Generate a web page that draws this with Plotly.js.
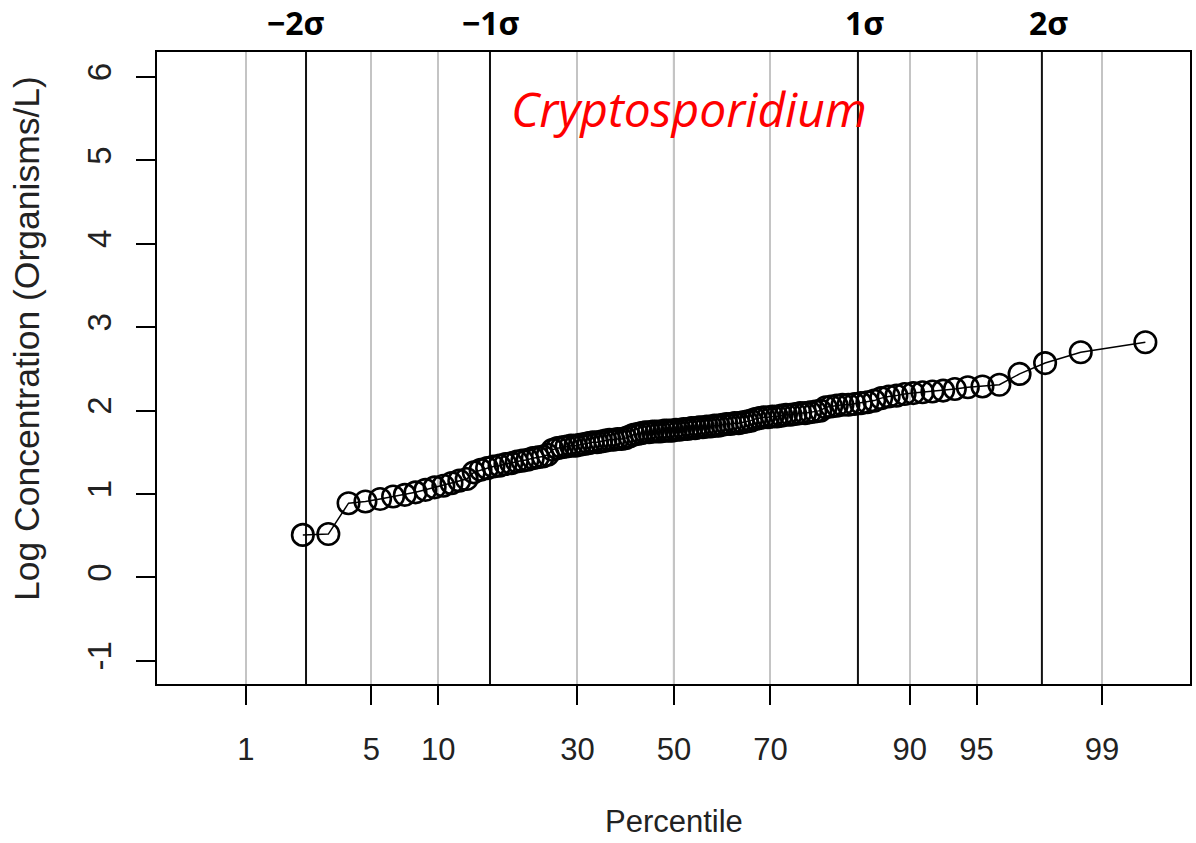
<!DOCTYPE html>
<html>
<head>
<meta charset="utf-8">
<script src="https://cdn.plot.ly/plotly-3.0.1.min.js"></script>
<style>html,body{margin:0;padding:0;background:#fff;}#chart{width:1196px;height:843px;}</style>
</head>
<body>
<div id="chart"></div>
<script>
// ---- data ----
const percentileTicks = [1, 5, 10, 30, 50, 70, 90, 95, 99];
const percentileLabels = ['1', '5', '10', '30', '50', '70', '90', '95', '99'];
const yTicks = [-1, 0, 1, 2, 3, 4, 5, 6];
const yTickLabels = ['-1', '0', '1', '2', '3', '4', '5', '6'];
const sigmaLevels = [-2, -1, 1, 2];
const sigmaLabels = ['\u22122\u03c3', '\u22121\u03c3', '1\u03c3', '2\u03c3'];
// sorted log10 concentrations (ranks 3..120 of a sample of 120; ranks 1-2 not shown)
const sampleSize = 120;
const firstRank = 3;
const logConc = [
  0.51, 0.52, 0.89, 0.91, 0.94, 0.97, 0.99, 1.02, 1.05, 1.08,
  1.10, 1.13, 1.16, 1.18, 1.26, 1.29, 1.31, 1.33, 1.34, 1.36,
  1.37, 1.39, 1.40, 1.41, 1.43, 1.44, 1.45, 1.47, 1.53, 1.55,
  1.56, 1.57, 1.58, 1.58, 1.59, 1.60, 1.61, 1.62, 1.62, 1.63,
  1.64, 1.65, 1.65, 1.66, 1.66, 1.67, 1.69, 1.71, 1.72, 1.73,
  1.74, 1.74, 1.75, 1.75, 1.75, 1.76, 1.76, 1.76, 1.77, 1.77,
  1.78, 1.78, 1.79, 1.79, 1.80, 1.80, 1.81, 1.81, 1.82, 1.82,
  1.83, 1.84, 1.84, 1.85, 1.85, 1.86, 1.87, 1.88, 1.90, 1.91,
  1.92, 1.92, 1.93, 1.93, 1.94, 1.95, 1.95, 1.96, 1.97, 1.97,
  1.98, 1.99, 2.00, 2.04, 2.05, 2.06, 2.07, 2.07, 2.08, 2.09,
  2.10, 2.12, 2.15, 2.17, 2.18, 2.20, 2.21, 2.22, 2.23, 2.24,
  2.26, 2.28, 2.29, 2.31, 2.44, 2.57, 2.70, 2.82
];

// ---- normal quantile (Acklam) ----
function qnorm(p) {
  const a = [-3.969683028665376e+01, 2.209460984245205e+02, -2.759285104469687e+02, 1.383577518672690e+02, -3.066479806614716e+01, 2.506628277459239e+00];
  const b = [-5.447609879822406e+01, 1.615858368580409e+02, -1.556989798598866e+02, 6.680131188771972e+01, -1.328068155288572e+01];
  const c = [-7.784894002430293e-03, -3.223964580411365e-01, -2.400758277161838e+00, -2.549732539343734e+00, 4.374664141464968e+00, 2.938163982698783e+00];
  const d = [7.784695709041462e-03, 3.224671290700398e-01, 2.445134137142996e+00, 3.754408661907416e+00];
  const pl = 0.02425, ph = 1 - pl;
  let q, r;
  if (p < pl) { q = Math.sqrt(-2 * Math.log(p));
    return (((((c[0]*q+c[1])*q+c[2])*q+c[3])*q+c[4])*q+c[5]) / ((((d[0]*q+d[1])*q+d[2])*q+d[3])*q+1); }
  if (p > ph) { q = Math.sqrt(-2 * Math.log(1 - p));
    return -(((((c[0]*q+c[1])*q+c[2])*q+c[3])*q+c[4])*q+c[5]) / ((((d[0]*q+d[1])*q+d[2])*q+d[3])*q+1); }
  q = p - 0.5; r = q * q;
  return (((((a[0]*r+a[1])*r+a[2])*r+a[3])*r+a[4])*r+a[5])*q / (((((b[0]*r+b[1])*r+b[2])*r+b[3])*r+b[4])*r+1);
}

// Blom plotting positions from ranks
const zScores = logConc.map((v, k) => qnorm((k + firstRank - 0.375) / (sampleSize + 0.25)));
const tickZ = percentileTicks.map(p => qnorm(p / 100));

const font = 'Liberation Sans, Arial, sans-serif';
const textCol = '#222';

const shapes = sigmaLevels.concat([0]).map(s => ({
  type: 'line', xref: 'x', yref: 'paper', x0: s, x1: s, y0: 0, y1: 1,
  line: {color: '#111', width: 2}, layer: 'below'
}));

const sigmaShift = [-10, 1, 7, 7];
const annotations = sigmaLevels.map((s, i) => ({
  x: s, y: 1, xref: 'x', yref: 'paper', yshift: 30, xshift: sigmaShift[i],
  text: '<b>' + sigmaLabels[i] + '</b>', showarrow: false,
  xanchor: 'center', yanchor: 'middle',
  font: {family: 'Open Sans, sans-serif', size: 32, color: '#000'}
}));
annotations.push({
  x: 0.515, y: 0.911, xref: 'paper', yref: 'paper', showarrow: false,
  text: '<i>Cryptosporidium</i>', xanchor: 'center', yanchor: 'middle',
  font: {family: 'Open Sans, sans-serif', size: 48, color: '#ff0000'}
});
annotations.push({
  x: 0.5, y: -0.218, xref: 'paper', yref: 'paper', showarrow: false,
  text: 'Percentile', xanchor: 'center', yanchor: 'middle',
  font: {family: font, size: 31, color: textCol}
});
annotations.push({
  x: -0.1258, y: 0.546, xref: 'paper', yref: 'paper', showarrow: false,
  text: 'Log Concentration (Organisms/L)', textangle: -90,
  xanchor: 'center', yanchor: 'middle',
  font: {family: font, size: 35.5, color: textCol}
});

const trace = {
  x: zScores, y: logConc, type: 'scatter', mode: 'lines+markers',
  line: {color: '#000', width: 1.5},
  marker: {symbol: 'circle-open', size: 21.5, color: '#000', line: {width: 2.6, color: '#000'}},
  hoverinfo: 'x+y', cliponaxis: false
};

const layout = {
  width: 1196, height: 843,
  margin: {l: 157, r: 6, t: 52, b: 159},
  paper_bgcolor: '#fff', plot_bgcolor: '#fff',
  showlegend: false,
  xaxis: {
    range: [-2.81, 2.805], tickmode: 'array', tickvals: tickZ, ticktext: percentileLabels,
    showgrid: true, gridcolor: '#c4c4c4', gridwidth: 2, zeroline: false,
    showline: true, mirror: true, linecolor: '#000', linewidth: 2,
    ticks: 'outside', ticklen: 19, tickwidth: 2, tickcolor: '#000',
    ticklabelstandoff: 18,
    tickfont: {family: font, size: 31, color: textCol}
  },
  yaxis: {
    range: [-1.278, 6.3], tickmode: 'array', tickvals: yTicks, ticktext: yTickLabels,
    showgrid: false, zeroline: false,
    showline: true, mirror: true, linecolor: '#000', linewidth: 2,
    ticks: 'outside', ticklen: 19, tickwidth: 2, tickcolor: '#000',
    tickangle: -90, ticklabelstandoff: 12,
    tickfont: {family: font, size: 33, color: textCol}
  },
  shapes: shapes,
  annotations: annotations
};

Plotly.newPlot('chart', [trace], layout, {displayModeBar: false, staticPlot: true});
</script>
</body>
</html>
